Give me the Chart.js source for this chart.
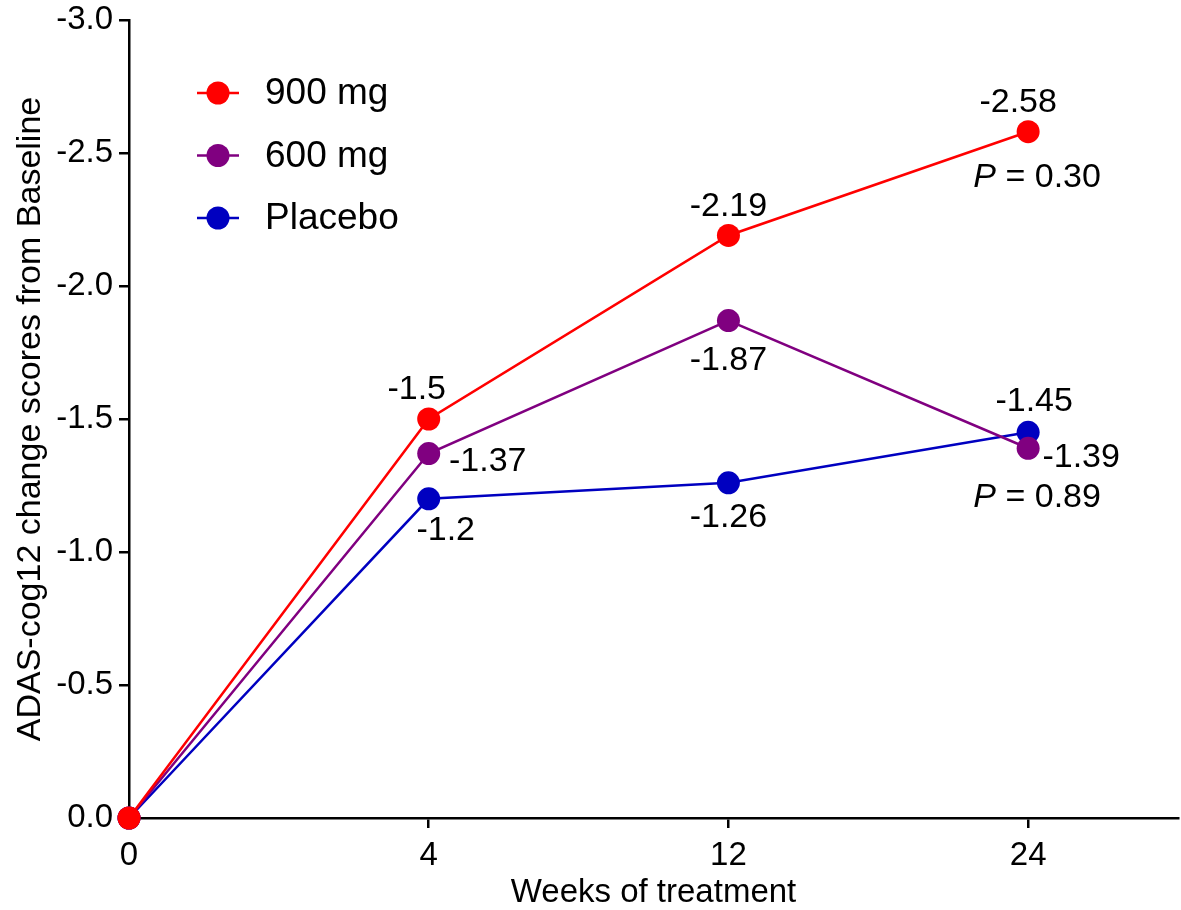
<!DOCTYPE html>
<html>
<head>
<meta charset="utf-8">
<script src="https://cdn.jsdelivr.net/npm/chart.js@4.4.1/dist/chart.umd.min.js"></script>
<style>
    html, body { margin: 0; padding: 0; background: #ffffff; }
    #wrap { width: 1181px; height: 910px; }
</style>
</head>
<body>
<div id="wrap"><canvas id="chart" width="1181" height="910"></canvas></div>
<script>
const weekLabels = ['0', '4', '12', '24'];
const seriesNames = ['900 mg', '600 mg', 'Placebo'];
const values900 = [0, -1.5, -2.19, -2.58];
const values600 = [0, -1.37, -1.87, -1.39];
const valuesPlacebo = [0, -1.2, -1.26, -1.45];
const yTicks = [0, -0.5, -1.0, -1.5, -2.0, -2.5, -3.0];
const pValues = ['0.30', '0.89'];

const colors = ['#ff0000', '#800080', '#0000c0'];
const FONT = '"Liberation Sans", Arial, Helvetica, sans-serif';

// where each value label sits relative to its point (dx, dy of label centre)
const labelOffsets = [
    [null, [-12, -29], [0, -29], [-10, -29]],
    [null, [59, 8], [0, 40], [53, 9]],
    [null, [17, 32], [0, 35], [6, -31]]
];
// p-value notes: series index, point index, offset
const pNotes = [
    { series: 0, index: 3, dx: 9, dy: 46, text: pValues[0] },
    { series: 1, index: 3, dx: 9, dy: 49, text: pValues[1] }
];

const allValues = [values900, values600, valuesPlacebo];

const datasets = allValues.map((vals, s) => ({
    label: seriesNames[s],
    data: vals.map((v, i) => ({ x: i, y: v })),
    borderColor: colors[s],
    backgroundColor: colors[s],
    pointBackgroundColor: colors[s],
    pointBorderColor: colors[s],
    borderWidth: 2.5,
    pointRadius: 11.5,
    pointHoverRadius: 11.5,
    pointBorderWidth: 0,
    tension: 0,
    clip: false
}));

const labelPlugin = {
    id: 'valueLabels',
    afterDatasetsDraw(chart) {
        const ctx = chart.ctx;
        ctx.save();
        ctx.fillStyle = '#000';
        ctx.textAlign = 'center';
        ctx.textBaseline = 'middle';
        ctx.font = '34px ' + FONT;
        allValues.forEach((vals, s) => {
            const meta = chart.getDatasetMeta(s);
            vals.forEach((v, i) => {
                const off = labelOffsets[s][i];
                if (!off) return;
                const pt = meta.data[i];
                ctx.fillText(String(v), pt.x + off[0], pt.y + off[1]);
            });
        });
        pNotes.forEach(n => {
            const pt = chart.getDatasetMeta(n.series).data[n.index];
            const cx = pt.x + n.dx, cy = pt.y + n.dy;
            ctx.font = 'italic 34px ' + FONT;
            const wP = ctx.measureText('P').width;
            ctx.font = '34px ' + FONT;
            const rest = ' = ' + n.text;
            const wR = ctx.measureText(rest).width;
            const x0 = cx - (wP + wR) / 2;
            ctx.textAlign = 'left';
            ctx.font = 'italic 34px ' + FONT;
            ctx.fillText('P', x0, cy);
            ctx.font = '34px ' + FONT;
            ctx.fillText(rest, x0 + wP, cy);
            ctx.textAlign = 'center';
        });
        ctx.restore();
    }
};

const legendPlugin = {
    id: 'insideLegend',
    afterDraw(chart) {
        const ctx = chart.ctx;
        const area = chart.chartArea;
        ctx.save();
        seriesNames.forEach((name, s) => {
            const y = area.top + 73 + s * 62.5;
            const x = area.left + 89;
            ctx.strokeStyle = colors[s];
            ctx.lineWidth = 2.5;
            ctx.beginPath();
            ctx.moveTo(x - 21, y);
            ctx.lineTo(x + 21, y);
            ctx.stroke();
            ctx.fillStyle = colors[s];
            ctx.beginPath();
            ctx.arc(x, y, 11.5, 0, Math.PI * 2);
            ctx.fill();
            ctx.fillStyle = '#000';
            ctx.font = '37px ' + FONT;
            ctx.textAlign = 'left';
            ctx.textBaseline = 'middle';
            ctx.fillText(name, x + 47, y + 1);
        });
        ctx.restore();
    }
};

new Chart(document.getElementById('chart'), {
    type: 'line',
    data: { datasets: datasets },
    options: {
        responsive: false,
        animation: false,
        events: [],
        layout: { autoPadding: false, padding: { top: 20, right: 3, left: 0, bottom: 0 } },
        plugins: {
            legend: { display: false },
            tooltip: { enabled: false }
        },
        scales: {
            x: {
                type: 'linear',
                min: 0,
                max: 3.5,
                ticks: {
                    stepSize: 1,
                    color: '#000',
                    font: { size: 33, family: FONT },
                    padding: 8,
                    maxRotation: 0,
                    callback: v => weekLabels[v]
                },
                afterBuildTicks: s => {
                    s.ticks = weekLabels.map((_, i) => ({ value: i }));
                },
                grid: { drawOnChartArea: false, drawTicks: true, tickLength: 10, color: '#000', lineWidth: 2.5 },
                border: { color: '#000', width: 2.5 },
                title: {
                    display: true,
                    text: 'Weeks of treatment',
                    color: '#000',
                    font: { size: 33, family: FONT },
                    padding: { top: 5, bottom: -3 }
                },
                afterFit: s => {
                    s.height = 92;
                    s.paddingLeft = 0;
                    s.paddingRight = 0;
                }
            },
            y: {
                type: 'linear',
                min: -3,
                max: 0,
                reverse: true,
                ticks: {
                    color: '#000',
                    font: { size: 33, family: FONT },
                    padding: 6,
                    callback: v => v.toFixed(1)
                },
                afterBuildTicks: s => {
                    s.ticks = yTicks.map(v => ({ value: v }));
                },
                grid: { drawOnChartArea: false, drawTicks: true, tickLength: 10, color: '#000', lineWidth: 2.5 },
                border: { color: '#000', width: 2.5 },
                title: {
                    display: true,
                    text: 'ADAS-cog12 change scores from Baseline',
                    color: '#000',
                    font: { size: 34, family: FONT },
                    padding: { top: 10, bottom: 4 }
                },
                afterFit: s => {
                    s.width = 129;
                    s.paddingTop = 0;
                    s.paddingBottom = 0;
                }
            }
        }
    },
    plugins: [labelPlugin, legendPlugin]
});
</script>
</body>
</html>
